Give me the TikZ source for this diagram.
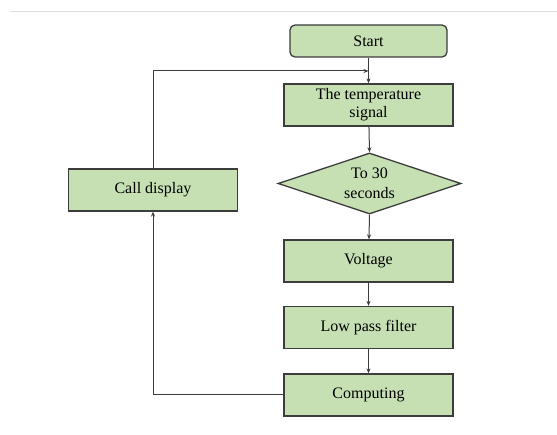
\documentclass[tikz,border=0pt]{standalone}
\usepackage{fontspec}
\setmainfont{Liberation Serif}
\usetikzlibrary{shapes.geometric,arrows.meta}
\definecolor{boxfill}{RGB}{198,224,180}
\definecolor{boxline}{RGB}{60,60,60}
\begin{document}
\begin{tikzpicture}[x=1pt,y=-1pt,
  stepbox/.style={draw=boxline,fill=boxfill,line width=1.3pt,minimum width=169pt,minimum height=42pt,inner sep=0pt,align=center,font=\fontsize{16}{18}\selectfont},
  startbox/.style={stepbox,rounded corners=5pt,minimum width=157pt,minimum height=32pt},
  decbox/.style={draw=boxline,fill=boxfill,line width=1.3pt,diamond,aspect=3,minimum width=183pt,minimum height=61pt,inner sep=0pt,align=center,font=\fontsize{16}{20}\selectfont},
  conn/.style={draw=boxline,line width=1pt,-{Stealth[length=5pt,width=4pt]}},
  line/.style={draw=boxline,line width=1pt}]
\useasboundingbox (0,0) rectangle (557,435);
\draw[gray!25,line width=0.8pt] (10,11) -- (557,11);
\node[startbox] (start) at (368.5,41) {Start};
\node[stepbox] (temp) at (368.5,105) {The temperature\\signal};
\node[decbox] (dec) at (369.5,183.5) {To 30\\seconds};
\node[stepbox] (volt) at (368.5,261) {Voltage};
\node[stepbox] (lpf) at (368.5,327.5) {Low pass filter};
\node[stepbox] (comp) at (368.5,395) {Computing};
\node[stepbox] (call) at (153,190) {Call display};
\coordinate (top) at (368.5,71);
\draw[conn] (start) -- (temp);
\draw[conn] (temp) -- (dec.north);
\draw[conn] (dec.south) -- (volt);
\draw[conn] (volt) -- (lpf);
\draw[conn] (lpf) -- (comp);
\draw[conn] (comp.west) -| (call.south);
\draw[conn] (call.north) |- (top);
\end{tikzpicture}
\end{document}
